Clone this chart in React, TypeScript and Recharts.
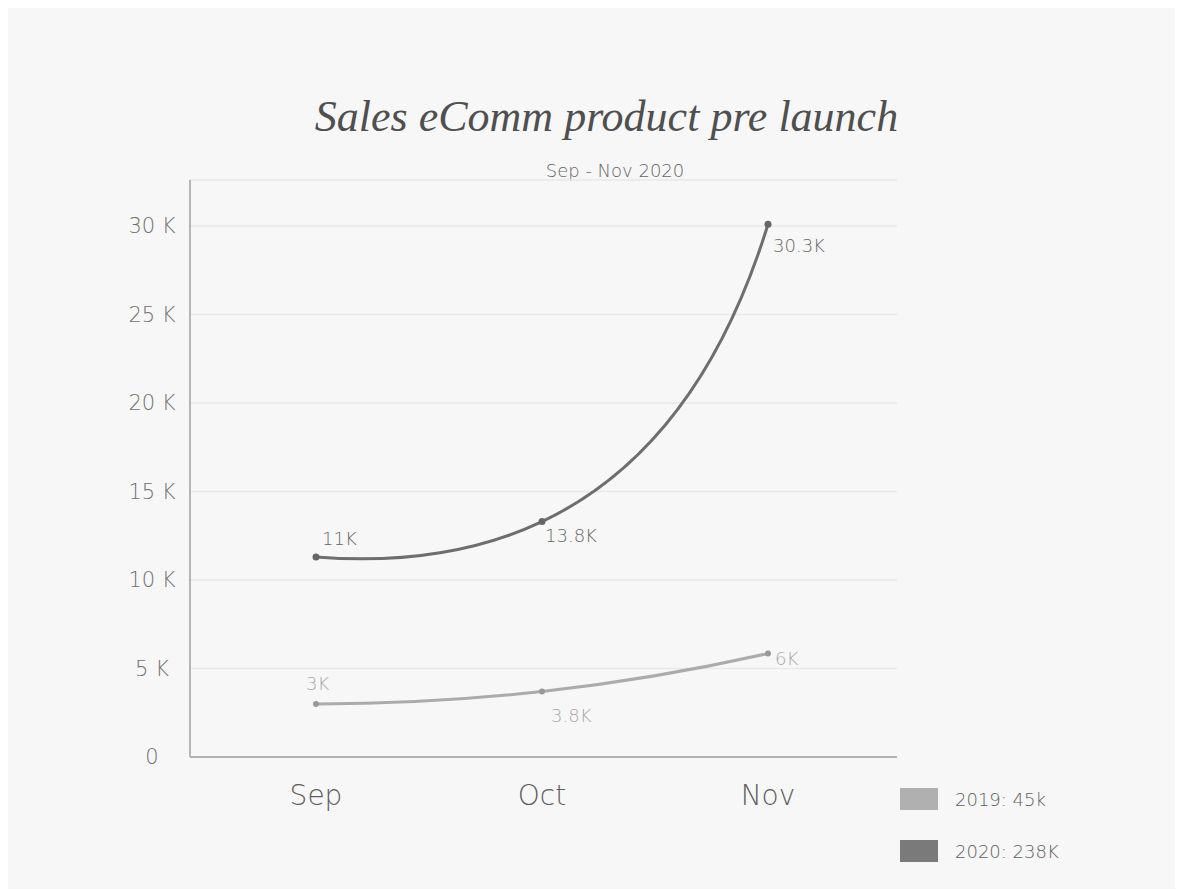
import React from "react";
import {
  LineChart,
  Line,
  XAxis,
  YAxis,
  CartesianGrid,
  LabelList,
} from "recharts";

const months = ["Sep", "Oct", "Nov"];
const sales2019 = [3000, 3700, 5850];
const sales2020 = [11300, 13300, 30100];
const labels2019 = ["3K", "3.8K", "6K"];
const labels2020 = ["11K", "13.8K", "30.3K"];
const yTicks = [0, 5000, 10000, 15000, 20000, 25000, 30000];
const legendItems = ["2019: 45k", "2020: 238K"];

const data = months.map((m, i) => ({
  month: m,
  y2019: sales2019[i],
  y2020: sales2020[i],
}));

const FONT = "'DejaVu Sans', sans-serif";
const C2019 = "#ababab";
const C2020 = "#6e6e6e";

// smooth curve: chord-length Bessel tangents (parabolic through neighbours)
function smoothCurve(context: any) {
  let pts: number[][] = [];
  return {
    areaStart() {},
    areaEnd() {},
    lineStart() {
      pts = [];
    },
    point(x: number, y: number) {
      pts.push([+x, +y]);
    },
    lineEnd() {
      const n = pts.length;
      if (!n) return;
      context.moveTo(pts[0][0], pts[0][1]);
      if (n === 2) context.lineTo(pts[1][0], pts[1][1]);
      if (n < 3) return;
      const h: number[] = [];
      const D: number[][] = [];
      for (let i = 0; i < n - 1; i++) {
        const dx = pts[i + 1][0] - pts[i][0];
        const dy = pts[i + 1][1] - pts[i][1];
        const l = Math.hypot(dx, dy) || 1;
        h.push(l);
        D.push([dx / l, dy / l]);
      }
      const d: number[][] = new Array(n);
      for (let i = 1; i < n - 1; i++) {
        const w = h[i - 1] + h[i];
        d[i] = [
          (h[i] * D[i - 1][0] + h[i - 1] * D[i][0]) / w,
          (h[i] * D[i - 1][1] + h[i - 1] * D[i][1]) / w,
        ];
      }
      d[0] = [2 * D[0][0] - d[1][0], 2 * D[0][1] - d[1][1]];
      d[n - 1] = [
        2 * D[n - 2][0] - d[n - 2][0],
        2 * D[n - 2][1] - d[n - 2][1],
      ];
      for (let i = 0; i < n - 1; i++) {
        const k = h[i] / 3;
        context.bezierCurveTo(
          pts[i][0] + d[i][0] * k,
          pts[i][1] + d[i][1] * k,
          pts[i + 1][0] - d[i + 1][0] * k,
          pts[i + 1][1] - d[i + 1][1] * k,
          pts[i + 1][0],
          pts[i + 1][1]
        );
      }
    },
  };
}

// label offsets per point
const off2020 = [
  { dx: 6, dy: -12 },
  { dx: 3, dy: 20 },
  { dx: 5, dy: 28 },
];
const off2019 = [
  { dx: -10, dy: -14 },
  { dx: 9, dy: 30 },
  { dx: 7, dy: 12 },
];

function makeLabel(texts: string[], offs: { dx: number; dy: number }[], color: string) {
  return (props: any) => {
    const { x, y, index } = props;
    const o = offs[index];
    return (
      <text
        x={x + o.dx}
        y={y + o.dy}
        fill={color}
        fontSize={18}
        fontFamily={FONT}
        fontWeight={200}
      >
        {texts[index]}
      </text>
    );
  };
}

export default function App() {
  return (
    <div
      style={{
        position: "relative",
        width: 1175,
        height: 881,
        background: "#f7f7f7",
      }}
    >
      <div
        style={{
          position: "absolute",
          left: 0,
          width: 1197,
          top: 83,
          textAlign: "center",
          fontFamily: "'Liberation Serif', serif",
          fontStyle: "italic",
          fontSize: 44,
          color: "#4f4f4f",
        }}
      >
        Sales eComm product pre launch
      </div>
      <div
        style={{
          position: "absolute",
          left: 0,
          width: 1214,
          top: 152,
          textAlign: "center",
          fontFamily: FONT,
          fontWeight: 200,
          fontSize: 18,
          color: "#666",
        }}
      >
        Sep - Nov 2020
      </div>
      <LineChart
        width={1175}
        height={881}
        data={data}
        margin={{ top: 172, right: 286, left: 102, bottom: 72 }}
      >
        <CartesianGrid vertical={false} stroke="#e9e9e9" strokeWidth={1.5} />
        <XAxis
          dataKey="month"
          axisLine={{ stroke: "#a0a0a0", strokeWidth: 1.5 }}
          tickLine={false}
          padding={{ left: 126, right: 129 }}
          height={60}
          tick={{ fontSize: 28, fill: "#5e5e5e", fontFamily: FONT, fontWeight: 200 }}
          dy={20}
        />
        <YAxis
          width={80}
          domain={[0, 32600]}
          ticks={yTicks}
          axisLine={{ stroke: "#a0a0a0", strokeWidth: 1.5 }}
          tickLine={false}
          tick={{
            fontSize: 21,
            fill: "#707070",
            fontFamily: FONT,
            fontWeight: 200,
            textAnchor: "middle",
          }}
          tickFormatter={(v: number) => (v === 0 ? "0" : `${v / 1000} K`)}
          dx={-30}
        />
        <Line
          type={smoothCurve as any}
          dataKey="y2019"
          stroke={C2019}
          strokeWidth={3}
          dot={{ r: 3, fill: "#999", stroke: "none" }}
          isAnimationActive={false}
        >
          <LabelList dataKey="y2019" content={makeLabel(labels2019, off2019, "#a8a8a8")} />
        </Line>
        <Line
          type={smoothCurve as any}
          dataKey="y2020"
          stroke={C2020}
          strokeWidth={3}
          dot={{ r: 3.5, fill: "#666", stroke: "none" }}
          isAnimationActive={false}
        >
          <LabelList dataKey="y2020" content={makeLabel(labels2020, off2020, "#666")} />
        </Line>
      </LineChart>
      {legendItems.map((t, i) => (
        <div
          key={t}
          style={{
            position: "absolute",
            left: 892,
            top: 780 + i * 52,
            display: "flex",
            alignItems: "center",
            fontFamily: FONT,
            fontWeight: 200,
            fontSize: 18,
            color: "#606060",
          }}
        >
          <span
            style={{
              display: "inline-block",
              width: 38,
              height: 22,
              background: i === 0 ? "#b0b0b0" : "#7a7a7a",
              marginRight: 17,
            }}
          />
          {t}
        </div>
      ))}
    </div>
  );
}
